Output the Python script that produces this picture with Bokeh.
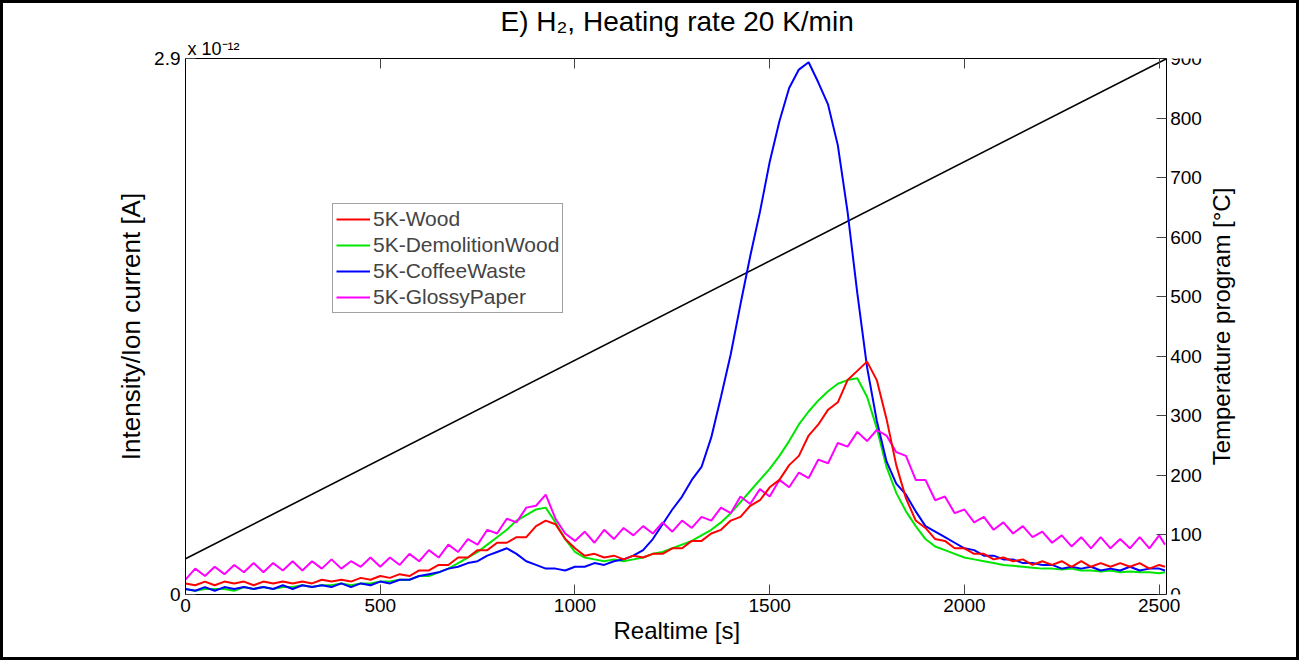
import math
from bokeh.plotting import figure
from bokeh.models import Range1d, LinearAxis, FixedTicker, Title, Legend, LegendItem, Label
from bokeh.embed import file_html
from bokeh.resources import INLINE

# ---------------- data (intensity in units of 1e-12 A) ----------------
realtime_s = list(range(0, 2501, 25)) + [2515]

wood = [
    .06, .05, .07, .05, .07, .06, .07, .05, .07, .06,
    .07, .06, .07, .06, .08, .07, .08, .07, .09, .08,
    .10, .09, .11, .10, .13, .13, .16, .16, .20, .20,
    .24, .24, .28, .28, .31, .31, .37, .40, .38, .30,
    .25, .21, .22, .20, .21, .19, .21, .20, .22, .22,
    .25, .25, .29, .29, .33, .35, .40, .42, .48, .51,
    .58, .62, .70, .75, .86, .92, 1.00, 1.04, 1.16, 1.21,
    1.26, 1.16, .95, .70, .52, .40, .36, .30, .29, .25,
    .25, .22, .22, .19, .20, .18, .19, .16, .18, .16,
    .18, .15, .18, .15, .17, .15, .17, .15, .17, .14,
    .16, .15,
]

demolition_wood = [
    .03, .02, .03, .03, .03, .02, .04, .03, .04, .03,
    .04, .04, .05, .04, .05, .05, .06, .05, .06, .06,
    .07, .07, .08, .08, .10, .10, .12, .14, .17, .20,
    .23, .27, .31, .35, .40, .43, .46, .47, .39, .30,
    .23, .20, .19, .18, .19, .18, .19, .20, .22, .23,
    .25, .27, .29, .32, .35, .39, .44, .50, .56, .62,
    .68, .75, .83, .92, .99, 1.05, 1.10, 1.14, 1.16, 1.17,
    1.07, .90, .69, .55, .45, .37, .30, .26, .24, .22,
    .20, .19, .18, .17, .16, .155, .15, .145, .14, .14,
    .135, .14, .13, .13, .125, .13, .12, .125, .12, .12,
    .115, .12,
]

coffee_waste = [
    .03, .02, .04, .02, .04, .03, .04, .03, .04, .03,
    .05, .03, .05, .04, .05, .04, .06, .04, .06, .05,
    .07, .06, .08, .08, .10, .11, .12, .14, .15, .17,
    .18, .21, .23, .25, .22, .18, .16, .14, .14, .13,
    .15, .15, .17, .16, .18, .19, .21, .24, .30, .38,
    .46, .53, .62, .69, .85, 1.07, 1.30, 1.57, 1.83, 2.07,
    2.34, 2.56, 2.74, 2.84, 2.88, 2.77, 2.65, 2.43, 2.07, 1.63,
    1.23, .94, .72, .60, .54, .45, .37, .34, .31, .28,
    .25, .24, .21, .21, .19, .19, .17, .17, .16, .16,
    .14, .15, .14, .15, .13, .14, .13, .15, .13, .14,
    .14, .13,
]

glossy_paper = [
    .08, .14, .10, .15, .11, .16, .12, .17, .12, .17,
    .13, .18, .13, .18, .14, .19, .14, .18, .15, .20,
    .15, .20, .16, .22, .18, .24, .20, .27, .23, .30,
    .27, .35, .33, .41, .39, .47, .48, .54, .41, .33,
    .29, .34, .28, .35, .30, .36, .32, .37, .33, .39,
    .34, .40, .36, .42, .40, .47, .44, .53, .49, .57,
    .53, .62, .58, .66, .63, .73, .71, .82, .80, .88,
    .83, .89, .86, .77, .75, .62, .62, .51, .53, .44,
    .46, .39, .42, .35, .39, .33, .37, .31, .34, .28,
    .32, .26, .31, .25, .31, .25, .30, .25, .31, .25,
    .32, .27,
]

temp_time_s = [0, 2520]
temp_program_c = [60, 900]

x_ticks = [0, 500, 1000, 1500, 2000, 2500]
y_ticks = [0, 2.9]
temp_ticks = [0, 100, 200, 300, 400, 500, 600, 700, 800, 900]

series_names = ["5K-Wood", "5K-DemolitionWood", "5K-CoffeeWaste", "5K-GlossyPaper"]
series_colors = ["#ff0000", "#00e600", "#0000ff", "#ff00ff"]

title_text = "E) H\u2082, Heating rate 20 K/min"
scale_text = "x 10\u207b\u00b9\u00b2"
right_label_text = "Temperature program [\u00b0C]"
x_label_text = "Realtime [s]"

X_END = 2518  # end of the plotted time axis (right axis position)

# ---------------- figure ----------------
FONT = "Liberation Sans"

# the frame is extended past X_END so that the right-hand axis title (a Label) lies inside it
p = figure(width=1299, height=660, output_backend="svg", toolbar_location=None,
           x_range=Range1d(0, 2750), y_range=Range1d(0, 2.9),
           min_border_left=182, min_border_right=46,
           min_border_top=55, min_border_bottom=69)
p.styles = {"border": "3px solid black"}
p.xgrid.visible = False
p.ygrid.visible = False
p.outline_line_color = None
p.background_fill_color = "white"
p.border_fill_color = "white"

def style_axis(ax, font_size="19px"):
    ax.major_tick_in = 10
    ax.major_tick_out = 0
    ax.minor_tick_line_color = None
    ax.axis_line_color = "black"
    ax.major_tick_line_color = "#444444"
    ax.major_label_text_font = FONT
    ax.major_label_text_font_size = font_size
    ax.major_label_text_color = "black"
    ax.axis_label_text_font = FONT
    ax.axis_label_text_font_size = "24px"
    ax.axis_label_text_font_style = "normal"
    ax.axis_label_text_color = "black"

xa = p.xaxis[0]
xa.ticker = FixedTicker(ticks=x_ticks)
xa.bounds = (0, X_END)
style_axis(xa)
xa.major_label_standoff = 4

ya = p.yaxis[0]
ya.ticker = FixedTicker(ticks=y_ticks)
ya.major_label_overrides = {0: "0", 2.9: "2.9"}
ya.axis_label = "Intensity/Ion current [A]"
style_axis(ya)
ya.axis_label_text_font_size = "26px"
ya.major_label_standoff = 5
ya.axis_label_standoff = 5

top = LinearAxis(ticker=FixedTicker(ticks=x_ticks), bounds=(0, X_END))
style_axis(top, "0px")
top.major_label_standoff = 0
p.add_layout(top, "above")

p.extra_y_ranges = {"temp": Range1d(0, 900)}
ra = LinearAxis(y_range_name="temp", ticker=FixedTicker(ticks=temp_ticks), fixed_location=X_END)
style_axis(ra)
ra.major_label_standoff = 4
p.add_layout(ra, "right")

# right-hand axis title, reading bottom-to-top, centred on the frame height
p.add_layout(Label(x=2659, y=450, y_range_name="temp", text=right_label_text,
                   angle=math.pi / 2, text_align="center", text_baseline="middle",
                   text_font=FONT, text_font_size="24px", text_color="black"))

# x-axis title, centred under the 0..X_END part of the frame
p.add_layout(Title(text=x_label_text, align="left", offset=428, standoff=0,
                   text_font=FONT, text_font_size="24px", text_font_style="normal",
                   text_color="black"), "below")

# titles above the frame: scale factor row (closest), then main title
p.add_layout(Title(text=scale_text, align="left", offset=2, standoff=0,
                   text_font=FONT, text_font_size="18px", text_font_style="normal",
                   text_color="black"), "above")
p.add_layout(Title(text=title_text, align="left", offset=315, standoff=0,
                   text_font=FONT, text_font_size="28px", text_font_style="normal",
                   text_color="black"), "above")

# temperature program line
p.line(temp_time_s, temp_program_c, y_range_name="temp", line_color="black", line_width=1.6)

data = [wood, demolition_wood, coffee_waste, glossy_paper]
renderers = {}
for idx in [1, 2, 3, 0]:
    r = p.line(realtime_s, data[idx], line_color=series_colors[idx], line_width=2)
    renderers[idx] = r

legend = Legend(items=[LegendItem(label=series_names[i], renderers=[renderers[i]]) for i in range(4)],
                location=(147, 281))
legend.label_text_font = FONT
legend.label_text_font_size = "21px"
legend.glyph_width = 34
legend.glyph_height = 20
legend.label_height = 20
legend.label_standoff = 3
legend.spacing = 2
legend.padding = 3
legend.margin = 0
legend.border_line_color = "#444444"
legend.border_line_width = 1
legend.background_fill_alpha = 1.0
p.add_layout(legend, "center")

open("out.html", "w").write(file_html(p, INLINE))
